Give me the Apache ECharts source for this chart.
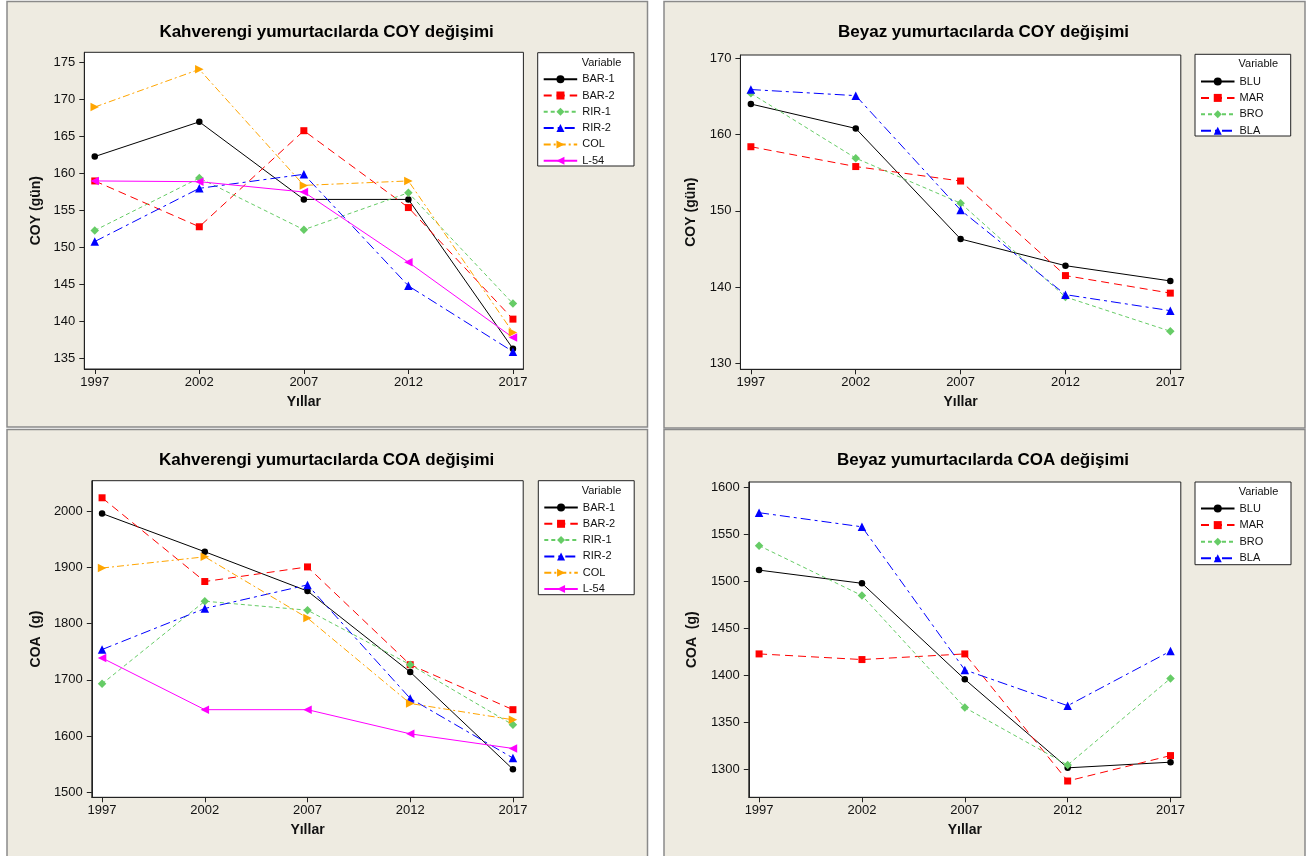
<!DOCTYPE html>
<html>
<head>
<meta charset="utf-8">
<script src="https://cdn.jsdelivr.net/npm/echarts@6/dist/echarts.min.js"></script>
<style>html,body{margin:0;padding:0;background:#fff}#c{width:1313px;height:856px}</style>
</head>
<body>
<div id="c"></div>
<script>
// ---- data ----
const years = [1997, 2002, 2007, 2012, 2017];
const brownNames = ['BAR-1', 'BAR-2', 'RIR-1', 'RIR-2', 'COL', 'L-54'];
const whiteNames = ['BLU', 'MAR', 'BRO', 'BLA'];

const coyTicks = [135, 140, 145, 150, 155, 160, 165, 170, 175];
const coyWhiteTicks = [130, 140, 150, 160, 170];
const coaTicks = [1500, 1600, 1700, 1800, 1900, 2000];
const coaWhiteTicks = [1300, 1350, 1400, 1450, 1500, 1550, 1600];

// Brown layers, COY (days)
const coyBAR1 = [162.3, 167.0, 156.5, 156.5, 136.3];
const coyBAR2 = [159.0, 152.8, 165.8, 155.4, 140.3];
const coyRIR1 = [152.3, 159.4, 152.4, 157.4, 142.4];
const coyRIR2 = [150.8, 158.0, 159.9, 144.8, 135.9];
const coyCOL  = [169.0, 174.1, 158.4, 159.0, 138.5];
const coyL54  = [159.0, 158.9, 157.5, 148.0, 137.8];

// White layers, COY (days)
const coyBLU = [164.0, 160.8, 146.3, 142.8, 140.8];
const coyMAR = [158.4, 155.8, 153.9, 141.5, 139.2];
const coyBRO = [165.4, 156.9, 151.0, 138.7, 134.2];
const coyBLA = [165.9, 165.1, 150.1, 139.0, 136.9];

// Brown layers, COA (g)
const coaBAR1 = [1996, 1928, 1858, 1714, 1541];
const coaBAR2 = [2024, 1875, 1901, 1727, 1647];
const coaRIR1 = [1693, 1840, 1824, 1727, 1620];
const coaRIR2 = [1754, 1827, 1869, 1667, 1561];
const coaCOL  = [1899, 1919, 1810, 1658, 1629];
const coaL54  = [1739, 1647, 1647, 1604, 1578];

// White layers, COA (g)
const coaBLU = [1512, 1498, 1396, 1302, 1308];
const coaMAR = [1423, 1417, 1423, 1288, 1315];
const coaBRO = [1538, 1485, 1366, 1305, 1397];
const coaBLA = [1573, 1558, 1406, 1368, 1426];

// ---- styles ----
const FONT = "'Liberation Sans', Arial, sans-serif";
const BEIGE = '#EEEBE1';
const styleMap = {
  'BAR-1': {color: '#000000', type: 'solid', symbol: 'circle', size: 6.5},
  'BAR-2': {color: '#FF0000', type: [8, 5], symbol: 'rect', size: 7},
  'RIR-1': {color: '#66CC66', type: [4, 3], symbol: 'path://M5,0L10,5L5,10L0,5Z', size: 8.5},
  'RIR-2': {color: '#0000FF', type: [10, 4, 3, 4], symbol: 'triangle', size: 8.5},
  'COL':   {color: '#FFA500', type: [7, 3, 2, 3], symbol: 'path://M0,0L10,5L0,10Z', size: 8.5},
  'L-54':  {color: '#FF00FF', type: 'solid', symbol: 'path://M10,0L0,5L10,10Z', size: 8.5},
  'BLU':   {color: '#000000', type: 'solid', symbol: 'circle', size: 6.5},
  'MAR':   {color: '#FF0000', type: [8, 5], symbol: 'rect', size: 7},
  'BRO':   {color: '#66CC66', type: [4, 3], symbol: 'path://M5,0L10,5L5,10L0,5Z', size: 8.5},
  'BLA':   {color: '#0000FF', type: [10, 4, 3, 4], symbol: 'triangle', size: 8.5}
};

const panelData = [
  {names: brownNames, values: [coyBAR1, coyBAR2, coyRIR1, coyRIR2, coyCOL, coyL54]},
  {names: whiteNames, values: [coyBLU, coyMAR, coyBRO, coyBLA]},
  {names: brownNames, values: [coaBAR1, coaBAR2, coaRIR1, coaRIR2, coaCOL, coaL54]},
  {names: whiteNames, values: [coaBLU, coaMAR, coaBRO, coaBLA]}
];

const grids = [
  {left: 84.3, top: 52.3, width: 439.1, height: 316.7},
  {left: 740.4, top: 55, width: 440.4, height: 314.3},
  {left: 91.8, top: 480.7, width: 431.4, height: 316.6},
  {left: 748.8, top: 482, width: 432, height: 315.3}
];
const yCfg = [
  {min: 133.55, max: 176.41, ticks: coyTicks, name: 'COY (gün)', gap: 41},
  {min: 129.21, max: 170.43, ticks: coyWhiteTicks, name: 'COY (gün)', gap: 42},
  {min: 1491.1, max: 2054.4, ticks: coaTicks, name: 'COA  (g)', gap: 49},
  {min: 1270.7, max: 1605.6, ticks: coaWhiteTicks, name: 'COA  (g)', gap: 50}
];

const plain = v => String(Math.round(v));
const xAxes = [], yAxes = [], series = [];
grids.forEach((g, i) => {
  g.show = false;
  g.containLabel = false;
  xAxes.push({
    type: 'value', gridIndex: i, min: 1996.5, max: 2017.5,
    axisLine: {show: true, onZero: false, lineStyle: {color: '#222', width: 1}},
    axisTick: {show: true, length: 5, customValues: years, lineStyle: {color: '#222'}},
    axisLabel: {customValues: years, formatter: plain, fontSize: 13, fontFamily: FONT, color: '#111', margin: 7},
    splitLine: {show: false},
    name: 'Yıllar', nameLocation: 'middle', nameGap: 26,
    nameTextStyle: {fontSize: 14, fontWeight: 'bold', fontFamily: FONT, color: '#111'}
  });
  const yc = yCfg[i];
  yAxes.push({
    type: 'value', gridIndex: i, min: yc.min, max: yc.max,
    axisLine: {show: true, onZero: false, lineStyle: {color: '#222', width: 1}},
    axisTick: {show: true, length: 5, customValues: yc.ticks, lineStyle: {color: '#222'}},
    axisLabel: {customValues: yc.ticks, formatter: plain, fontSize: 13, fontFamily: FONT, color: '#111', margin: 9},
    splitLine: {show: false},
    name: yc.name, nameLocation: 'middle', nameRotate: 90, nameGap: yc.gap,
    nameTextStyle: {fontSize: 14, fontWeight: 'bold', fontFamily: FONT, color: '#111'}
  });
  const pd = panelData[i];
  pd.names.forEach((n, k) => {
    const st = styleMap[n];
    series.push({
      type: 'line', name: n, xAxisIndex: i, yAxisIndex: i,
      data: years.map((yr, j) => [yr, pd.values[k][j]]),
      symbol: st.symbol, symbolSize: st.size,
      itemStyle: {color: st.color},
      lineStyle: {color: st.color, width: 1, type: st.type},
      emphasis: {disabled: true},
      animation: false
    });
  });
});

const legendPos = [
  {left: 542.7, top: 73.7, gap: 5.3, data: brownNames},
  {left: 1200, top: 76, gap: 5.4, data: whiteNames},
  {left: 543.3, top: 502, gap: 5.3, data: brownNames},
  {left: 1200, top: 503, gap: 5.6, data: whiteNames}
];
const legends = legendPos.map(l => ({
  orient: 'vertical', left: l.left, top: l.top, padding: 0,
  itemWidth: 33.5, itemHeight: 10, itemGap: l.gap, data: l.data,
  textStyle: {fontSize: 11, fontFamily: FONT, color: '#111', lineHeight: 10},
  selectedMode: false, z: 5
}));

const panelRects = [
  [7, 1.5, 640.5, 425.5], [664, 1.5, 641, 426.5],
  [7, 429.5, 640.5, 432], [664, 429.5, 641, 432]
];
const legendBoxes = [
  [537.7, 52.7, 96.3, 113.3], [1195, 54.3, 95.7, 81.7],
  [538.3, 480.7, 95.9, 114], [1195, 482, 96, 82.7]
];
const titles = [
  ['Kahverengi yumurtacılarda COY değişimi', 326.6, 32],
  ['Beyaz yumurtacılarda COY değişimi', 983.5, 32],
  ['Kahverengi yumurtacılarda COA değişimi', 326.6, 460],
  ['Beyaz yumurtacılarda COA değişimi', 983, 460]
];
const varLabels = [[601.5, 63], [1258.3, 64.3], [601.5, 490.7], [1258.5, 492]];

const graphics = [];
panelRects.forEach(r => graphics.push({
  type: 'rect', z: 0, silent: true,
  shape: {x: r[0], y: r[1], width: r[2], height: r[3]},
  style: {fill: BEIGE, stroke: '#8a8a8a', lineWidth: 1.5}
}));
grids.forEach(g => graphics.push({
  type: 'rect', z: 0, silent: true,
  shape: {x: g.left, y: g.top, width: g.width, height: g.height},
  style: {fill: '#fff', stroke: '#222', lineWidth: 1}
}));
legendBoxes.forEach(r => graphics.push({
  type: 'rect', z: 3, silent: true,
  shape: {x: r[0], y: r[1], width: r[2], height: r[3]},
  style: {fill: '#fff', stroke: '#222', lineWidth: 1}
}));
titles.forEach(t => graphics.push({
  type: 'text', z: 6, silent: true, x: t[1], y: t[2],
  style: {text: t[0], fill: '#000', font: "bold 17px " + FONT, textAlign: 'center', textVerticalAlign: 'middle'}
}));
varLabels.forEach(v => graphics.push({
  type: 'text', z: 6, silent: true, x: v[0], y: v[1],
  style: {text: 'Variable', fill: '#111', font: "11px " + FONT, textAlign: 'center', textVerticalAlign: 'middle'}
}));

const chart = echarts.init(document.getElementById('c'), null, {renderer: 'canvas'});
chart.setOption({
  backgroundColor: '#fff',
  animation: false,
  graphic: graphics,
  grid: grids,
  xAxis: xAxes,
  yAxis: yAxes,
  legend: legends,
  series: series
});
</script>
</body>
</html>
